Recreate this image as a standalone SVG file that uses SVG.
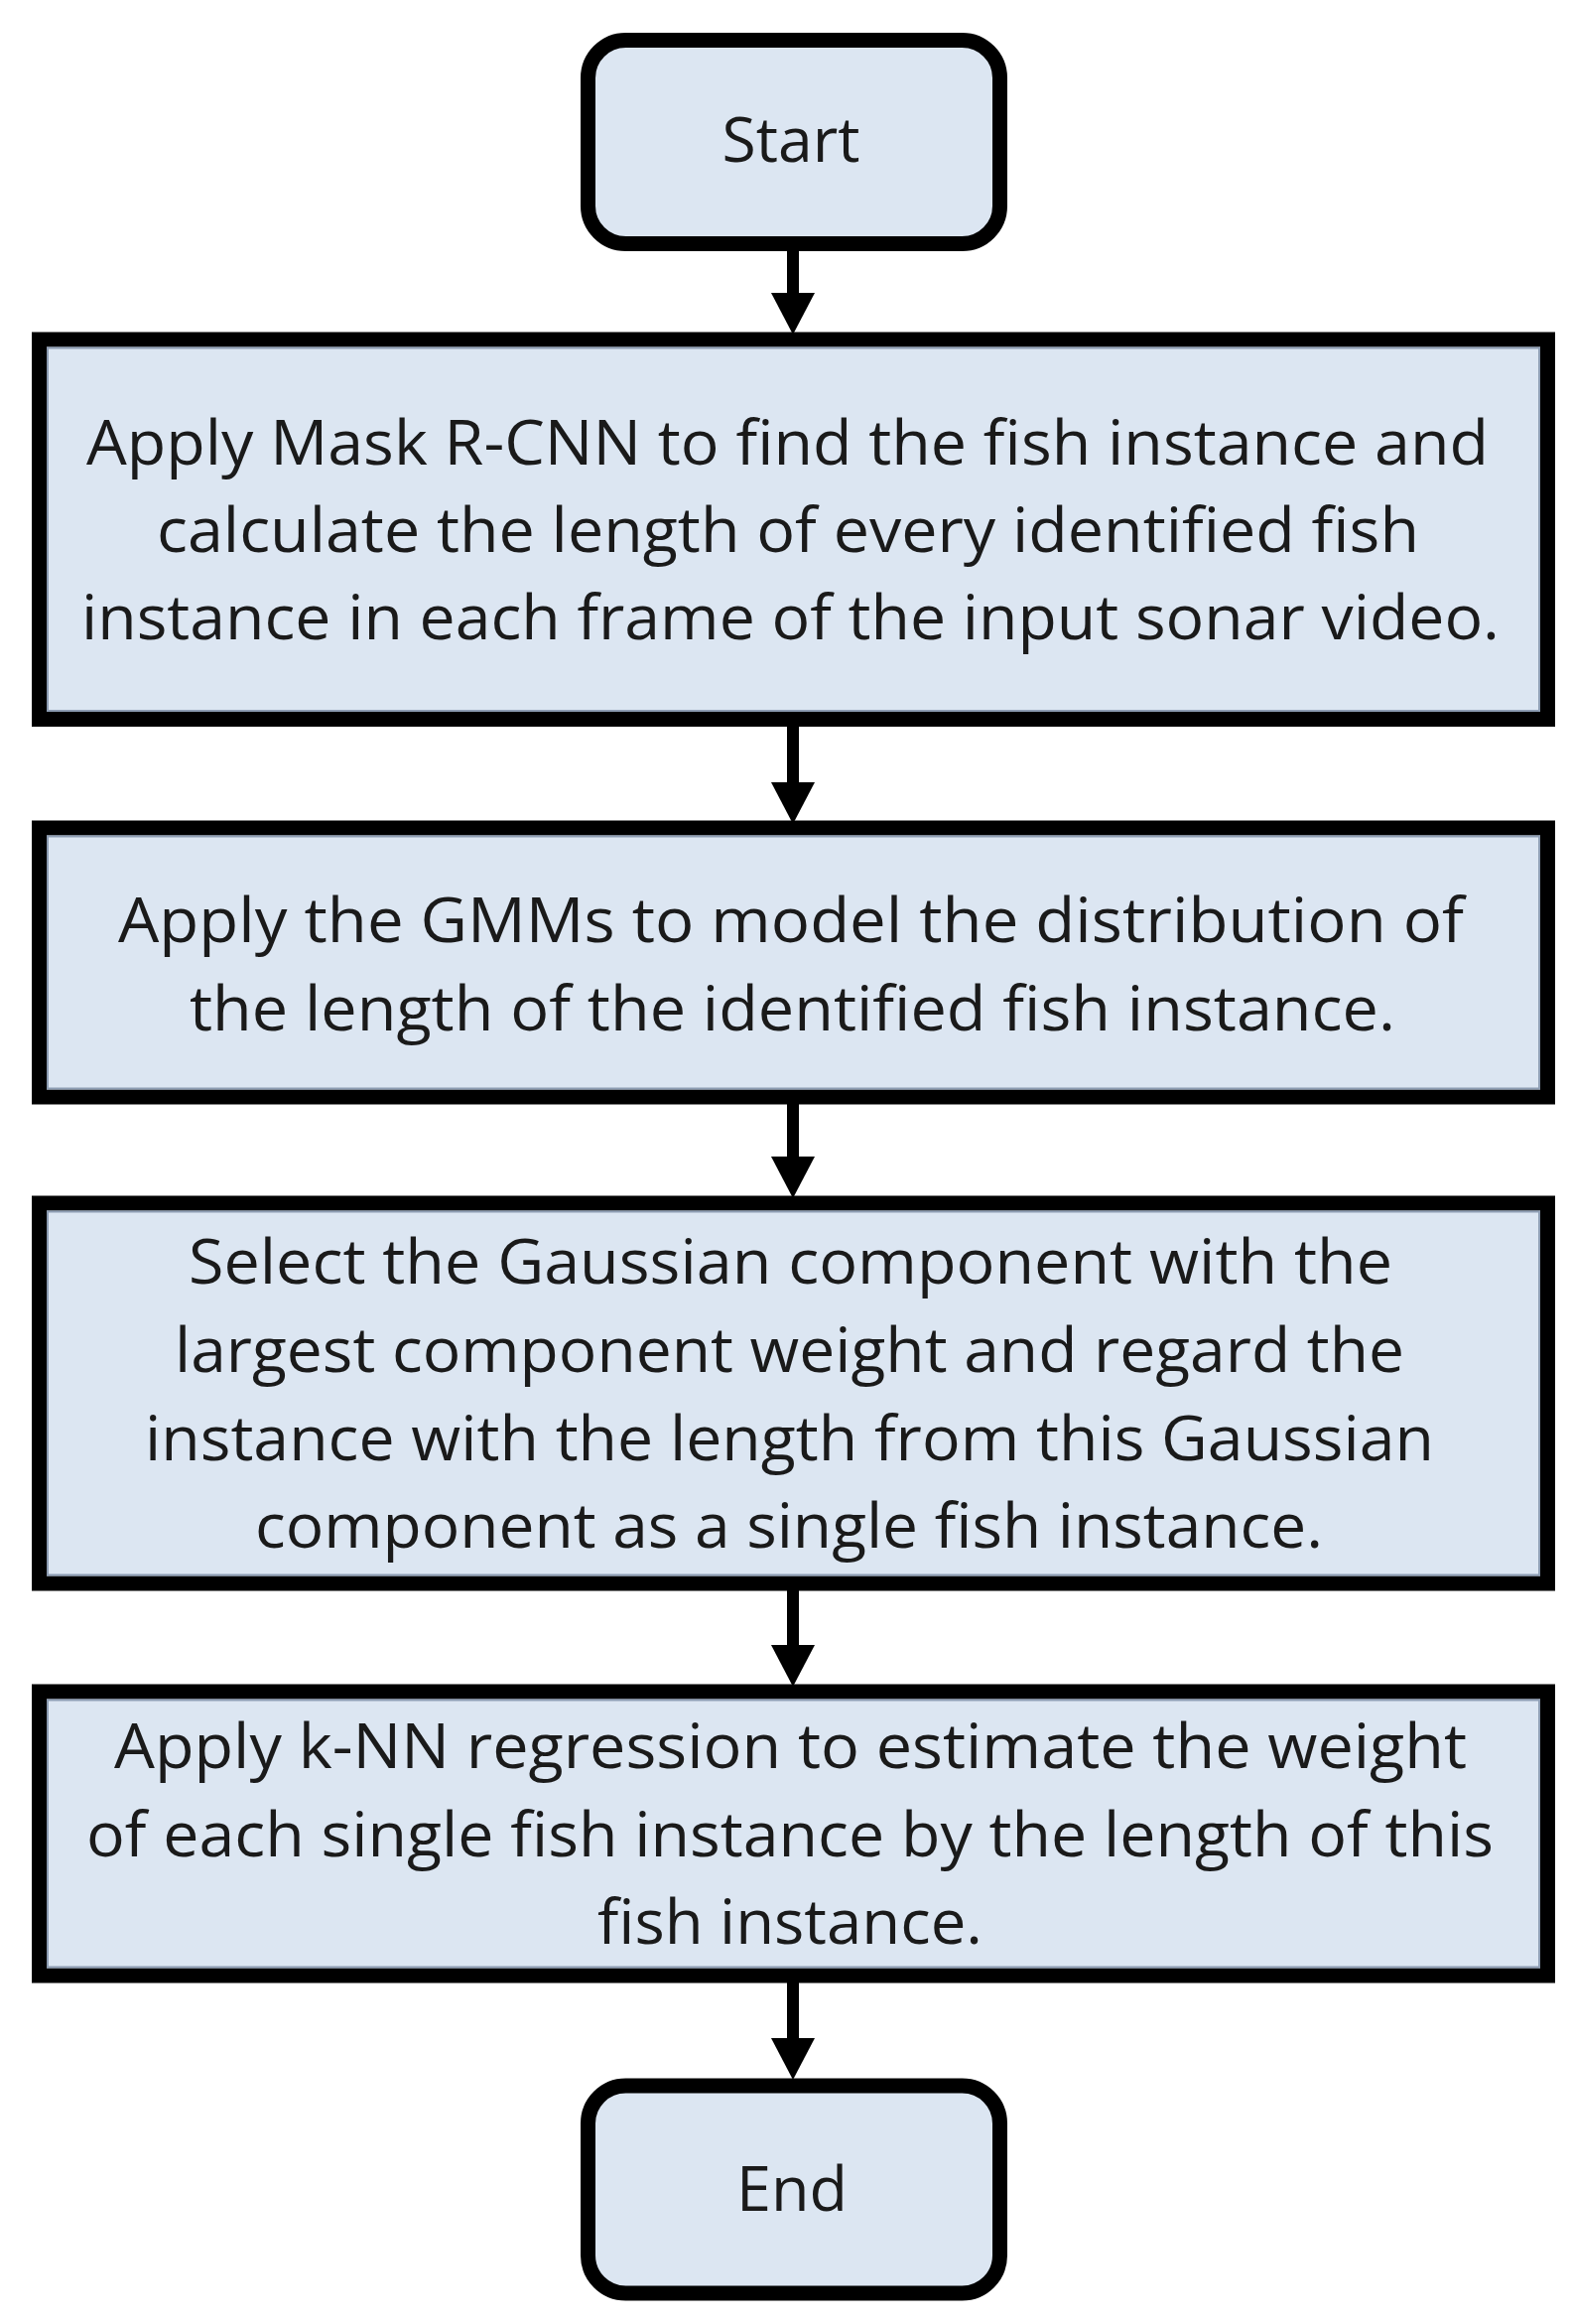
<svg xmlns="http://www.w3.org/2000/svg" width="1584" height="2341" viewBox="0 0 1584 2341">
<style>
  .box{fill:#dce6f2;stroke:#000;stroke-width:15}
  .inner{fill:none;stroke:#8d9db3;stroke-width:2}
  .t{font-family:"Open Sans","Noto Sans","Liberation Sans",sans-serif;font-size:62px;fill:#1a1a1a;text-anchor:middle}
  .c{stroke:#000;stroke-width:12;fill:none}
</style>
<defs>
  <marker id="ah" markerUnits="userSpaceOnUse" markerWidth="44" markerHeight="44" refX="20" refY="22" orient="auto">
    <path d="M0,0 L42,22 L0,44 z" fill="#000"/>
  </marker>
</defs>
<rect width="1584" height="2341" fill="#fff"/>
<g id="connectors">
  <line class="c" x1="799" y1="253" x2="799" y2="315" marker-end="url(#ah)"/>
  <line class="c" x1="799" y1="731" x2="799" y2="808" marker-end="url(#ah)"/>
  <line class="c" x1="799" y1="1112" x2="799" y2="1185" marker-end="url(#ah)"/>
  <line class="c" x1="799" y1="1602" x2="799" y2="1677" marker-end="url(#ah)"/>
  <line class="c" x1="799" y1="1997" x2="799" y2="2073" marker-end="url(#ah)"/>
</g>
<g id="start">
  <rect class="box" x="592.5" y="40.5" width="415" height="205" rx="38"/>
  <text class="t" x="797" y="163" textLength="139" lengthAdjust="spacingAndGlyphs">Start</text>
</g>
<g id="step1">
  <rect class="box" x="39.5" y="342" width="1520" height="382.5"/>
  <rect class="inner" x="48" y="350.5" width="1503" height="365.5"/>
  <text class="t" x="793.5" y="468" textLength="1413" lengthAdjust="spacingAndGlyphs">Apply Mask R-CNN to find the fish instance and</text>
  <text class="t" x="794" y="556" textLength="1272" lengthAdjust="spacingAndGlyphs">calculate the length of every identified fish</text>
  <text class="t" x="796.5" y="644" textLength="1429" lengthAdjust="spacingAndGlyphs">instance in each frame of the input sonar video.</text>
</g>
<g id="step2">
  <rect class="box" x="39.5" y="834" width="1520" height="271"/>
  <rect class="inner" x="48" y="842.5" width="1503" height="254"/>
  <text class="t" x="797" y="949" textLength="1356" lengthAdjust="spacingAndGlyphs">Apply the GMMs to model the distribution of</text>
  <text class="t" x="798.5" y="1038" textLength="1215" lengthAdjust="spacingAndGlyphs">the length of the identified fish instance.</text>
</g>
<g id="step3">
  <rect class="box" x="39.5" y="1212" width="1520" height="383"/>
  <rect class="inner" x="48" y="1220.5" width="1503" height="366"/>
  <text class="t" x="796.5" y="1293" textLength="1213" lengthAdjust="spacingAndGlyphs">Select the Gaussian component with the</text>
  <text class="t" x="795.5" y="1382" textLength="1239" lengthAdjust="spacingAndGlyphs">largest component weight and regard the</text>
  <text class="t" x="795.5" y="1471" textLength="1299" lengthAdjust="spacingAndGlyphs">instance with the length from this Gaussian</text>
  <text class="t" x="795" y="1559" textLength="1076" lengthAdjust="spacingAndGlyphs">component as a single fish instance.</text>
</g>
<g id="step4">
  <rect class="box" x="39.5" y="1704" width="1520" height="286"/>
  <rect class="inner" x="48" y="1712.5" width="1503" height="269"/>
  <text class="t" x="796.5" y="1781" textLength="1363" lengthAdjust="spacingAndGlyphs">Apply k-NN regression to estimate the weight</text>
  <text class="t" x="796" y="1870" textLength="1418" lengthAdjust="spacingAndGlyphs">of each single fish instance by the length of this</text>
  <text class="t" x="796" y="1958" textLength="388" lengthAdjust="spacingAndGlyphs">fish instance.</text>
</g>
<g id="end">
  <rect class="box" x="592.5" y="2101" width="415" height="209" rx="38"/>
  <text class="t" x="798" y="2227" textLength="112" lengthAdjust="spacingAndGlyphs">End</text>
</g>
</svg>
